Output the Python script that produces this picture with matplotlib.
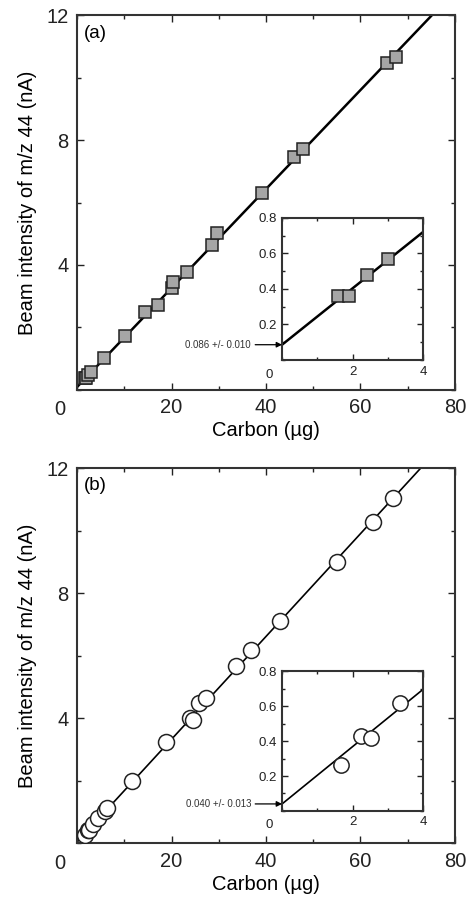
import numpy as np
import matplotlib
matplotlib.use("Agg")
from matplotlib import pyplot as plt
from matplotlib.ticker import MultipleLocator

plt.rcParams['font.family'] = ['Liberation Sans', 'DejaVu Sans']

# (a) squares
carbon_a = [1.6, 1.9, 2.4, 3.0, 5.6, 10.1, 14.4, 17.2, 20.0, 20.3, 23.3, 28.6, 29.7,
            39.2, 46.0, 47.9, 65.7, 67.6]
beam_a = [0.36, 0.36, 0.48, 0.57, 1.02, 1.71, 2.50, 2.72, 3.26, 3.46, 3.78, 4.64, 5.02,
          6.30, 7.46, 7.71, 10.46, 10.66]
icept_a, slope_a = 0.086, 0.1586
label_a = "0.086 +/- 0.010"

# (b) circles
carbon_b = [1.67, 2.24, 2.52, 3.35, 4.5, 5.9, 6.4, 11.6, 18.9, 24.0, 24.6, 25.8, 27.3,
            33.7, 36.8, 43.0, 55.0, 62.6, 66.9]
beam_b = [0.265, 0.43, 0.42, 0.62, 0.80, 1.02, 1.12, 2.0, 3.23, 4.0, 3.95, 4.48, 4.64,
          5.66, 6.18, 7.10, 9.0, 10.27, 11.04]
icept_b, slope_b = 0.040, 0.1643
label_b = "0.040 +/- 0.013"

fig = plt.figure(figsize=(4.67, 9.0), dpi=100)
FS = 14.5


def style(ax, fs, major, minor, pad):
    ax.tick_params(which='both', direction='in', top=True, right=True,
                   labelsize=fs, width=1.0, colors='#222222', pad=pad)
    ax.tick_params(which='major', length=major)
    ax.tick_params(which='minor', length=minor)
    for s in ax.spines.values():
        s.set_linewidth(1.5)
        s.set_color('#333333')


def panel(rect, inrect, xs, ys, icept, slope, note, tag, mk, face, ms, ims, lw):
    ax = fig.add_axes(rect)
    xl = np.array([0, 80])
    ax.plot(xl, icept + slope * xl, color='black', lw=lw, zorder=2)
    ax.plot(xs, ys, ls='none', marker=mk, ms=ms, mfc=face, mec='#222222',
            mew=1.1, zorder=3)
    ax.set_xlim(0, 80)
    ax.set_ylim(0, 12)
    ax.set_xticks([20, 40, 60, 80])
    ax.set_yticks([4, 8, 12])
    ax.xaxis.set_minor_locator(MultipleLocator(10))
    ax.yaxis.set_minor_locator(MultipleLocator(2))
    style(ax, FS, 5, 3, 6)
    ax.text(-0.045, -0.028, "0", transform=ax.transAxes, fontsize=FS,
            ha='center', va='top', color='#222222')
    ax.set_xlabel("Carbon (\u00b5g)", fontsize=FS, labelpad=3)
    ax.set_ylabel("Beam intensity of m/z 44 (nA)", fontsize=FS, labelpad=7)
    ax.text(0.018, 0.975, tag, transform=ax.transAxes, fontsize=13.5,
            ha='left', va='top')

    ins = fig.add_axes(inrect)
    xi = np.array([0, 4])
    ins.plot(xi, icept + slope * xi, color='black', lw=lw, zorder=2)
    ins.plot(xs, ys, ls='none', marker=mk, ms=ims, mfc=face, mec='#222222',
             mew=1.1, zorder=3)
    ins.set_xlim(0, 4)
    ins.set_ylim(0, 0.8)
    ins.set_xticks([2, 4])
    ins.set_yticks([0.2, 0.4, 0.6, 0.8])
    ins.set_yticklabels(["0.2", "0.4", "0.6", "0.8"])
    ins.xaxis.set_minor_locator(MultipleLocator(1))
    ins.yaxis.set_minor_locator(MultipleLocator(0.1))
    style(ins, 9.5, 4, 2.5, 4)
    ins.text(-0.09, -0.06, "0", transform=ins.transAxes, fontsize=9.5,
             ha='center', va='top', color='#222222')
    ins.annotate(note, xy=(0, icept), xycoords='data',
                 xytext=(-0.22, icept), textcoords=('axes fraction', 'data'),
                 fontsize=7, ha='right', va='center', color='#333333',
                 arrowprops=dict(arrowstyle='-|>', color='black', lw=0.9,
                                 mutation_scale=8, shrinkA=1, shrinkB=0))
    return ax


panel([0.165, 0.567, 0.809, 0.416], [0.604, 0.600, 0.302, 0.158],
      carbon_a, beam_a, icept_a, slope_a, label_a, "(a)", 's', '#a6a6a6', 8.5, 9, 1.8)
panel([0.165, 0.063, 0.809, 0.417], [0.604, 0.099, 0.302, 0.155],
      carbon_b, beam_b, icept_b, slope_b, label_b, "(b)", 'o', 'white', 11.5, 11, 1.2)

fig.savefig("out.png", dpi=100)
